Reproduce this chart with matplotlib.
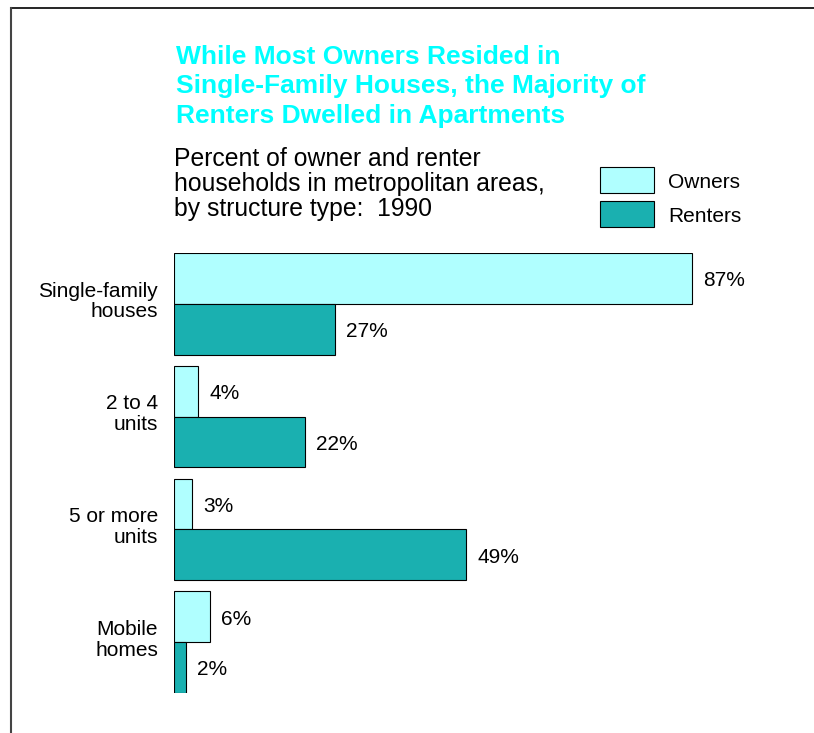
import numpy as np
import matplotlib.pyplot as plt
from matplotlib.lines import Line2D

plt.rcParams['font.family'] = ['Liberation Sans', 'DejaVu Sans']

categories = ['Single-family\nhouses', '2 to 4\nunits', '5 or more\nunits', 'Mobile\nhomes']
owners = [87, 4, 3, 6]
renters = [27, 22, 49, 2]
series_names = ['Owners', 'Renters']

c_own = '#b0ffff'
c_rent = '#1ab0b0'
c_title = '#00ffff'

W, H = 814, 733
fig = plt.figure(figsize=(W / 100, H / 100), dpi=100)

# frame lines (top and left)
fig.add_artist(Line2D([11 / W, 1], [1 - 8 / H, 1 - 8 / H], color='black', lw=1.2))
fig.add_artist(Line2D([11 / W, 11 / W], [0, 1 - 8 / H], color='#444444', lw=1.5))

# bar axes: x=174..769 px for 0..100 %, y=253..693 px
ax = fig.add_axes([174 / W, 40 / H, 595.4 / W, 440 / H])
y = np.arange(len(categories))
h = 0.45
ax.barh(y - h / 2, owners, height=h, color=c_own, edgecolor='black', linewidth=0.8)
ax.barh(y + h / 2, renters, height=h, color=c_rent, edgecolor='black', linewidth=0.8)
ax.set_xlim(0, 100)
ax.set_ylim(len(categories) - 0.55, -0.45)
ax.axis('off')

for i in range(len(categories)):
    ax.text(owners[i] + 1.9, y[i] - h / 2 + 0.02, f'{owners[i]}%', va='center', ha='left', fontsize=15)
    ax.text(renters[i] + 1.9, y[i] + h / 2 + 0.02, f'{renters[i]}%', va='center', ha='left', fontsize=15)
    ax.text(-2.7, y[i] - 0.02, categories[i], va='center', ha='right', multialignment='right',
            fontsize=15, linespacing=1.12)

fig.text(176 / W, 1 - 45 / H,
         'While Most Owners Resided in\nSingle-Family Houses, the Majority of\nRenters Dwelled in Apartments',
         color=c_title, fontsize=19, fontweight='bold', va='top', ha='left', linespacing=1.28)
fig.text(174 / W, 1 - 147 / H,
         'Percent of owner and renter\nhouseholds in metropolitan areas,\nby structure type:  1990',
         color='black', fontsize=17.8, va='top', ha='left', linespacing=1.05)

# legend
for k, (name, col) in enumerate(zip(series_names, [c_own, c_rent])):
    top = 167 + k * 34
    fig.patches.append(plt.Rectangle((600 / W, 1 - (top + 26) / H), 54 / W, 26 / H,
                                     transform=fig.transFigure, facecolor=col,
                                     edgecolor='black', linewidth=0.8))
    fig.text(668 / W, 1 - (top + 16) / H, name, fontsize=15, va='center', ha='left')

fig.savefig('out.png', dpi=100)
